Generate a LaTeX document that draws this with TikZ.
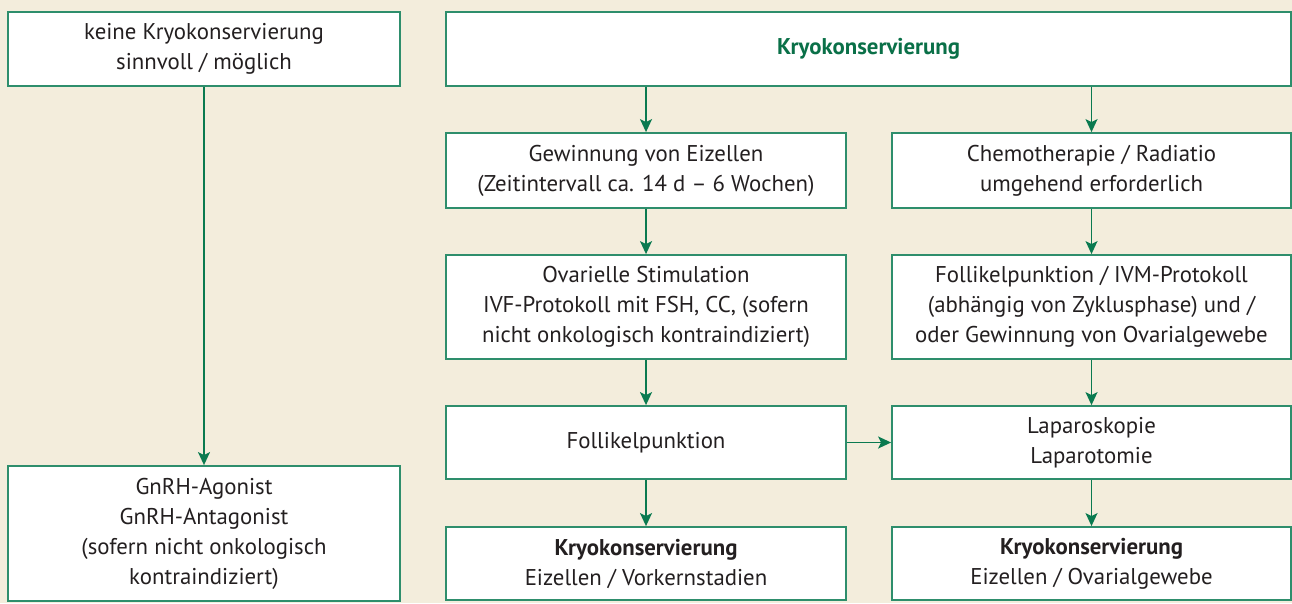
\documentclass[tikz,border=0pt]{standalone}
\usepackage{fontspec}
\setmainfont{PT Sans}
\usetikzlibrary{arrows.meta}
\definecolor{bgcream}{HTML}{F3EDDC}
\definecolor{boxgreen}{HTML}{2E8E6C}
\definecolor{arrgreen}{HTML}{0A7A50}
\definecolor{titlegreen}{HTML}{0A7048}
\definecolor{txt}{HTML}{231F20}
\begin{document}
\begin{tikzpicture}[x=1pt,y=-1pt,
  box/.style={draw=boxgreen,line width=1.8pt,fill=white,align=center,inner sep=0pt,
    text=txt,font=\fontsize{22.8}{30}\selectfont,anchor=center},
  arr/.style={draw=arrgreen,line width=1.6pt,-{Stealth[length=13pt,width=12pt,inset=3pt]}}]
\fill[bgcream] (0,0) rectangle (1292,603);
\useasboundingbox (0,0) rectangle (1292,603);
\node[box,minimum width=392,minimum height=74] (ltop) at (204,49) {keine Kryokonservierung\\sinnvoll / möglich};
\node[box,minimum width=392,minimum height=135] (lbot) at (204,533.5) {GnRH-Agonist\\GnRH-Antagonist\\(sofern nicht onkologisch\\kontraindiziert)};
\node[box,minimum width=845,minimum height=74,text=titlegreen,font=\bfseries\fontsize{22.8}{30}\selectfont] (top) at (868.5,49) {Kryokonservierung};
\node[box,minimum width=400,minimum height=75] (g1) at (646,170.5) {Gewinnung von Eizellen\\(Zeitintervall ca. 14 d – 6 Wochen)};
\node[box,minimum width=399,minimum height=75] (c1) at (1091.5,170.5) {Chemotherapie / Radiatio\\umgehend erforderlich};
\node[box,minimum width=400,minimum height=104] (g2) at (646,307) {Ovarielle Stimulation\\IVF-Protokoll mit FSH, CC, (sofern\\nicht onkologisch kontraindiziert)};
\node[box,minimum width=399,minimum height=104] (c2) at (1091.5,307) {Follikelpunktion / IVM-Protokoll\\(abhängig von Zyklusphase) und /\\oder Gewinnung von Ovarialgewebe};
\node[box,minimum width=400,minimum height=73] (g3) at (646,442.5) {Follikelpunktion};
\node[box,minimum width=399,minimum height=73] (c3) at (1091.5,442.5) {Laparoskopie\\Laparotomie};
\node[box,minimum width=400,minimum height=73] (g4) at (646,563.5) {\textbf{Kryokonservierung}\\Eizellen / Vorkernstadien};
\node[box,minimum width=399,minimum height=73] (c4) at (1091.5,563.5) {\textbf{Kryokonservierung}\\Eizellen / Ovarialgewebe};
\draw[arr] (ltop) -- (lbot);
\draw[arr] (top.south -| g1.north) -- (g1.north);
\draw[arr] (top.south -| c1.north) -- (c1.north);
\draw[arr] (g1) -- (g2);
\draw[arr] (c1) -- (c2);
\draw[arr] (g2) -- (g3);
\draw[arr] (c2) -- (c3);
\draw[arr] (g3) -- (g4);
\draw[arr] (c3) -- (c4);
\draw[arr] (g3) -- (c3);
\end{tikzpicture}
\end{document}
